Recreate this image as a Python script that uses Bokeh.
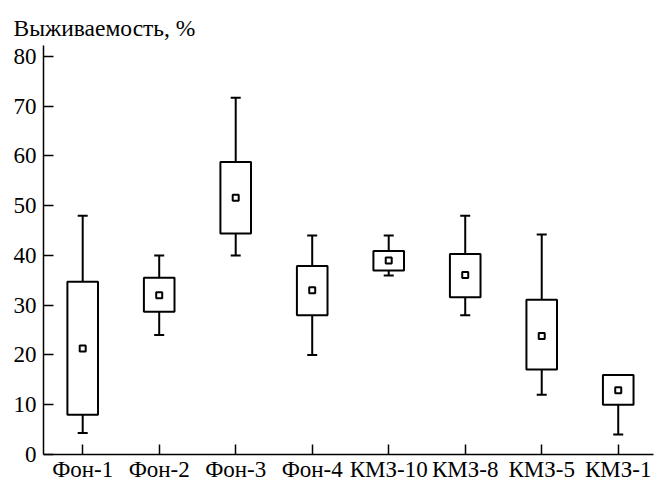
from bokeh.plotting import figure
from bokeh.models import Range1d, FixedTicker, Title
from bokeh.embed import file_html
from bokeh.resources import INLINE

categories = ["Фон-1", "Фон-2", "Фон-3", "Фон-4", "КМЗ-10", "КМЗ-8", "КМЗ-5", "КМЗ-1"]
whisker_low = [4.3, 24, 40, 20, 36, 28, 12, 4]
box_low = [8, 28.7, 44.4, 28, 37, 31.6, 17.1, 10]
median = [21.3, 32, 51.6, 33, 39, 36.1, 23.8, 12.9]
box_high = [34.7, 35.5, 58.8, 37.9, 40.9, 40.3, 31.1, 16]
whisker_high = [48, 40, 71.7, 44, 44, 48, 44.2, 16]
y_ticks = [0, 10, 20, 30, 40, 50, 60, 70, 80]
title_text = "Выживаемость, %"

FONT = "Liberation Serif"
xs = list(range(1, len(categories) + 1))

p = figure(width=658, height=484, output_backend="svg", toolbar_location=None,
           x_range=Range1d(0.4876, 8.461), y_range=Range1d(0, 82.2),
           min_border_left=43, min_border_right=5, min_border_top=45, min_border_bottom=0)
p.outline_line_color = None
p.xgrid.visible = False
p.ygrid.visible = False

p.add_layout(Title(text=title_text, align="left", offset=-30, text_font=FONT,
                   text_font_size="23.5px", text_font_style="normal", text_color="black",
                   standoff=10), "above")

# whiskers
p.segment(x0=xs, y0=box_high, x1=xs, y1=whisker_high, line_color="black", line_width=2)
p.segment(x0=xs, y0=box_low, x1=xs, y1=whisker_low, line_color="black", line_width=2)
# caps
p.scatter(x=xs, y=whisker_high, marker="dash", size=10, line_color="black", line_width=2)
p.scatter(x=xs, y=whisker_low, marker="dash", size=10, line_color="black", line_width=2)
# boxes
p.vbar(x=xs, width=0.4, bottom=box_low, top=box_high, fill_color="white",
       line_color="black", line_width=2)
# medians
p.scatter(x=xs, y=median, marker="square", size=6, fill_color="white",
          line_color="black", line_width=2)

# axes
p.xaxis.ticker = FixedTicker(ticks=xs)
p.xaxis.major_label_overrides = {x: c for x, c in zip(xs, categories)}
p.yaxis.ticker = FixedTicker(ticks=y_ticks)
for ax in (p.xaxis, p.yaxis):
    ax.axis_line_color = "black"
    ax.axis_line_width = 1.5
    ax.major_tick_line_color = "black"
    ax.major_tick_line_width = 1.5
    ax.major_tick_in = 10
    ax.major_tick_out = 0
    ax.minor_tick_line_color = None
    ax.major_label_text_font = FONT
    ax.major_label_text_font_size = "23px"
    ax.major_label_text_color = "black"
p.xaxis.major_label_standoff = 2
p.yaxis.major_label_standoff = 7

open("out.html", "w").write(file_html(p, INLINE))
